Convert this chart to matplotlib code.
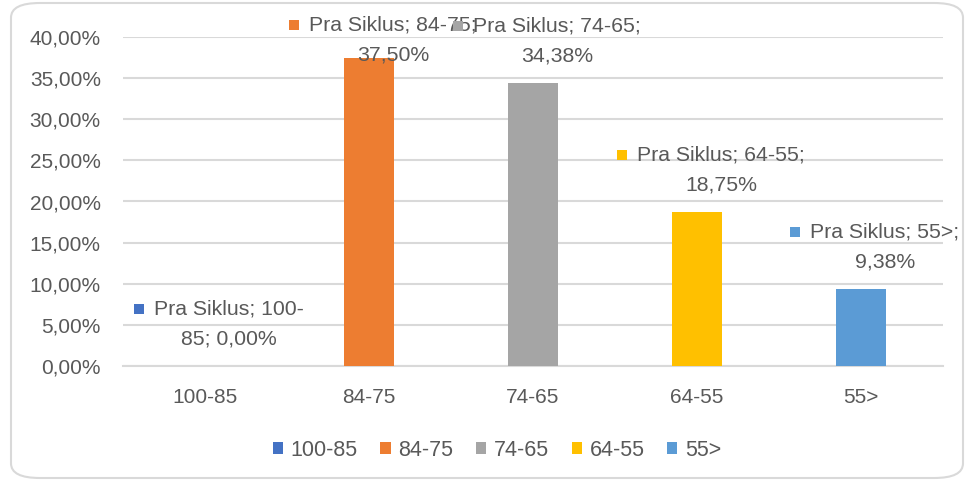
import matplotlib
matplotlib.use("Agg")
import matplotlib.pyplot as plt
import matplotlib.transforms as mtransforms
from matplotlib.patches import FancyBboxPatch, Patch

categories = ["100-85", "84-75", "74-65", "64-55", "55>"]
values = [0.0, 0.375, 0.3438, 0.1875, 0.0938]
series_name = "Pra Siklus"
colors = ["#4472C4", "#ED7D31", "#A5A5A5", "#FFC000", "#5B9BD5"]
yticks = [0, 0.05, 0.10, 0.15, 0.20, 0.25, 0.30, 0.35, 0.40]

txt = "#595959"
grid = "#d9d9d9"
plt.rcParams['font.family'] = ['Liberation Sans', 'DejaVu Sans']

fig = plt.figure(figsize=(9.65, 4.86), dpi=100)
W, H = 965, 486

# chart border
border = FancyBboxPatch((11 / W, 8 / H), 952 / W, 475 / H,
                        boxstyle="round,pad=0,rounding_size=0.03",
                        transform=fig.transFigure, facecolor="white",
                        edgecolor=grid, linewidth=1.5, zorder=-10)
fig.patches.append(border)

ax = fig.add_axes([123 / W, 1 - 366 / H, 820 / W, 329 / H])
ax.set_facecolor("none")
x = list(range(len(categories)))
bars = ax.bar(x, values, width=0.31, color=colors, zorder=3)

ax.set_xlim(-0.5, len(categories) - 0.5)
ax.set_ylim(0, 0.40)
ax.set_yticks(yticks)
ax.set_yticklabels([f"{v*100:.2f}%".replace(".", ",") for v in yticks])
ax.set_xticks(x)
ax.set_xticklabels(categories)
ax.tick_params(axis="both", length=0, labelsize=15, colors=txt)
ax.tick_params(axis="y", pad=16)
ax.tick_params(axis="x", pad=16)
ax.grid(axis="y", color=grid, linewidth=1.5, zorder=0)
for s in ["top", "right", "left"]:
    ax.spines[s].set_visible(False)
ax.spines["bottom"].set_color(grid)
ax.spines["bottom"].set_linewidth(1.5)

# data labels with legend key (Excel style)
cap = 0.345
line1 = []
for i, (c, v) in enumerate(zip(categories, values)):
    y = min(v, cap)
    t1 = mtransforms.offset_copy(ax.transData, fig=fig, x=24, y=57, units='dots')
    t2 = mtransforms.offset_copy(ax.transData, fig=fig, x=24, y=27, units='dots')
    first = f"{series_name}; {c};"
    if c == "100-85":
        first = f"{series_name}; 100-"
        second = "85; " + f"{v*100:.2f}%".replace(".", ",")
    else:
        second = f"{v*100:.2f}%".replace(".", ",")
    a = ax.text(i, y, first, transform=t1, ha="center", va="center",
                fontsize=15.3, color=txt, zorder=5)
    ax.text(i, y, second, transform=t2, ha="center", va="center",
            fontsize=15.3, color=txt, zorder=5)
    line1.append((a, colors[i]))

fig.canvas.draw()
r = fig.canvas.get_renderer()
for a, col in line1:
    bb = a.get_window_extent(r)
    cx = bb.x0 - 15
    cy = (bb.y0 + bb.y1) / 2
    fig.patches.append(plt.Rectangle(((cx - 5) / W, (cy - 5) / H), 10 / W, 10 / H,
                                     transform=fig.transFigure, facecolor=col,
                                     edgecolor="none", zorder=6))

handles = [Patch(facecolor=col, edgecolor="none") for col in colors]
fig.legend(handles, categories, loc="center", bbox_to_anchor=(0.515, 1 - 450 / H),
           ncol=5, frameon=False, fontsize=15.5, labelcolor=txt,
           handlelength=0.48, handleheight=0.48, handletextpad=0.35,
           columnspacing=1.05)

fig.savefig("out.png", dpi=100)
